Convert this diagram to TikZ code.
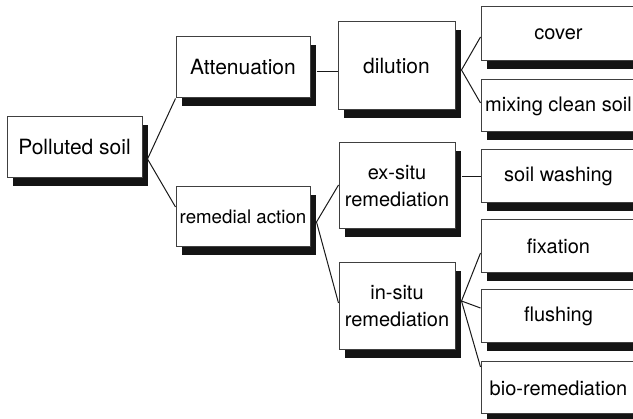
\documentclass[tikz,border=0pt]{standalone}
\usepackage{fontspec}
\setmainfont{TeX Gyre Heros}
\usetikzlibrary{shadows,calc}
\begin{document}
\begin{tikzpicture}[x=1pt,y=-1pt,
  box/.style={draw=black!75, line width=1pt, fill=white, inner sep=0pt, align=center,
    drop shadow={shadow xshift=6pt, shadow yshift=-8pt, opacity=1, fill=black!92},
    font=\fontsize{20}{27}\selectfont},
  big/.style={font=\fontsize{21}{27}\selectfont},
  link/.style={draw=black!90, line width=1pt}]
\useasboundingbox (0,0) rectangle (633,419);
\begin{scope}
\clip (0,0) rectangle (633,419);
% nodes
\node[box,big, minimum width=135pt, minimum height=61pt] (pol) at (74.5,147.5) {Polluted soil};
\node[box,big, minimum width=134pt, minimum height=61pt] (att) at (243,67.5) {Attenuation};
\node[box, font=\fontsize{18.7}{27}\selectfont, minimum width=134pt, minimum height=60pt] (rem) at (243,217) {remedial action};
\node[box,big, minimum width=117pt, minimum height=88pt] (dil) at (396.5,66) {dilution};
\node[box, minimum width=116pt, minimum height=86pt] (exs) at (397,186) {ex-situ\\remediation};
\node[box, minimum width=116pt, minimum height=87pt] (ins) at (397,306.5) {in-situ\\remediation};
\node[box, minimum width=155pt, minimum height=54pt] (cov) at (558.5,34) {cover};
\node[box, minimum width=155pt, minimum height=52pt] (mix) at (558.5,106) {mixing clean soil};
\node[box, minimum width=155pt, minimum height=53pt] (soi) at (558.5,176.5) {soil washing};
\node[box, minimum width=155pt, minimum height=53pt] (fix) at (558.5,246.5) {fixation};
\node[box, minimum width=155pt, minimum height=53pt] (flu) at (558.5,316.5) {flushing};
\node[box, minimum width=155pt, minimum height=52pt] (bio) at (558.5,388) {bio-remediation};
% connectors
\draw[link] (att.south west) -- ($(pol.east)+(5,11.5)$) -- ($(rem.west)+(0,-10)$);
\draw[link] ($(att.east)+(6,4.5)$) -- ($(dil.west)+(0,6)$);
\draw[link] ($(exs.west)+(0,-1)$) -- ($(rem.east)+(6,5)$) -- ($(ins.west)+(0,-3.5)$);
\draw[link] ($(cov.west)+(0,3)$) -- ($(dil.east)+(6,4)$) -- ($(mix.west)+(0,-3)$);
\draw[link] ($(exs.east)+(6,-9)$) -- ($(soi.west)+(0,0.5)$);
\draw[link] ($(ins.east)+(6,-5.5)$) -- ($(fix.west)+(0,6.5)$);
\draw[link] ($(ins.east)+(6,-5.5)$) -- ($(flu.west)+(0,-8.5)$);
\draw[link] ($(ins.east)+(6,-5.5)$) -- ($(bio.west)+(0,-21)$);
\end{scope}
\end{tikzpicture}
\end{document}
